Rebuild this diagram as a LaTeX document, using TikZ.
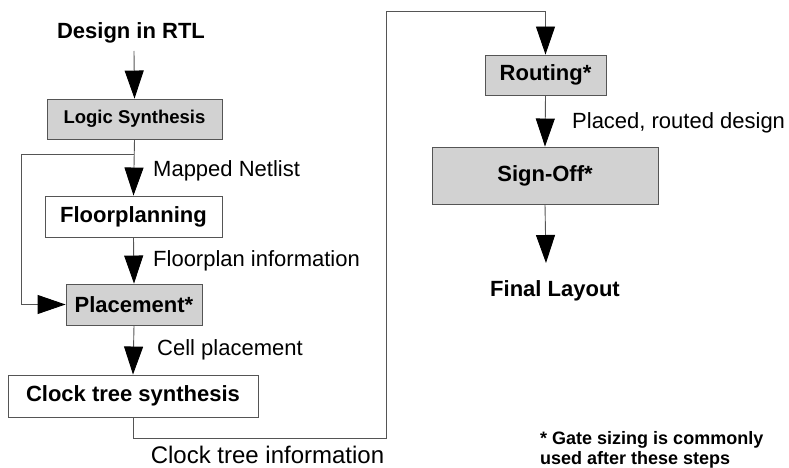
\documentclass[tikz,border=0pt]{standalone}
\usepackage{fontspec}
\setmainfont{Liberation Sans}
\usetikzlibrary{arrows.meta}

\definecolor{boxgray}{RGB}{210,210,210}
\definecolor{linegray}{RGB}{85,85,85}

\begin{document}
\begin{tikzpicture}[x=1pt,y=-1pt,
    stage/.style={draw=linegray, line width=0.9pt, inner sep=0pt, font=\fontsize{22}{26}\selectfont\bfseries},
    grey/.style={stage, fill=boxgray},
    lbl/.style={inner sep=0pt, anchor=west, font=\fontsize{22}{26}\selectfont},
    flow/.style={draw=linegray, line width=0.9pt, -{Triangle[length=28pt,width=19pt,color=black,fill=black]}}]

    \useasboundingbox (0,0) rectangle (789,468);

    \draw(131,32.5) node[inner sep=0pt, font=\fontsize{22}{26}\selectfont\bfseries] (rtl) {Design in RTL};
    \draw(134.5,119) node[grey, minimum width=175pt, minimum height=40pt, font=\fontsize{18.5}{22}\selectfont\bfseries] (ls) {Logic Synthesis};
    \draw(133.5,216.5) node[stage, minimum width=177pt, minimum height=41pt] (fp) {Floorplanning};
    \draw(134,304.5) node[grey, minimum width=136pt, minimum height=41pt] (pl) {Placement*};
    \draw(133,396) node[stage, minimum width=250pt, minimum height=42pt] (cts) {Clock tree synthesis};
    \draw(545.5,75) node[grey, minimum width=121pt, minimum height=40pt] (rt) {Routing*};
    \draw(545,175.5) node[grey, minimum width=226pt, minimum height=57pt] (so) {Sign-Off*};
    \draw(555,291) node[inner sep=0pt, font=\fontsize{22}{26}\selectfont\bfseries] (fl) {Final Layout};

    \draw(153,171) node[lbl] (mn) {Mapped Netlist};
    \draw(153,261) node[lbl] (fi) {Floorplan information};
    \draw(157,350) node[lbl] (cp) {Cell placement};
    \draw(572,123) node[lbl] (prd) {Placed, routed design};
    \draw(267.5,455) node[inner sep=0pt, font=\fontsize{24}{28}\selectfont] (cti) {Clock tree information};
    \draw(540,450) node[inner sep=0pt, anchor=west, align=left, font=\fontsize{18}{20}\selectfont\bfseries] (note) {* Gate sizing is commonly\\used after these steps};

    \coordinate (fb) at (134,154);
    \coordinate (c1) at (386,438);
    \coordinate (c2) at (386,11);

    \draw[flow] (134,51) -- (ls.north);
    \draw[flow] (ls.south) -- (fp.north);
    \draw[flow] (fb) -- ++(-113,0) |- (pl.west);
    \draw[flow] (fp.south) -- (pl.north);
    \draw[flow] (pl.south) -- (cts.north);
    \draw[flow] (cts.south) |- (c1) -- (c2) -| (rt.north);
    \draw[flow] (rt.south) -- (so.north);
    \draw[flow] (so.south) -- (546,263);

    \end{tikzpicture}
\end{document}
